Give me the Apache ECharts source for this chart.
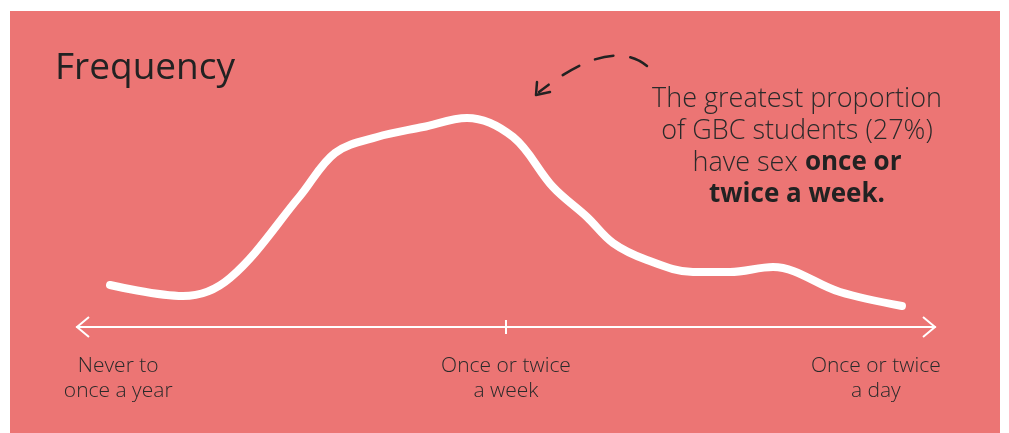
<!DOCTYPE html>
<html><head><meta charset="utf-8">
<script src="https://cdn.jsdelivr.net/npm/echarts@6/dist/echarts.min.js"></script>
<style>
html,body{margin:0;padding:0;background:#fff;}
#wrap{position:relative;width:1009px;height:433px;}
#bg{position:absolute;left:10px;top:11px;width:990px;height:422px;background:#EC7574;}
#chart{position:absolute;left:0;top:0;width:1009px;height:433px;}
</style></head><body>
<div id="wrap"><div id="bg"></div><div id="chart"></div></div>
<script>
// Frequency scale position (0 = never, 100 = daily) and share of students (%)
const frequencyPos = [3.85, 12.35, 17.83, 25.99, 30.07, 34.97, 40.33, 45.45, 50.82, 55.48, 59.44, 62.47, 66.43, 71.79, 76.11, 81.12, 88.93, 96.15];
const sharePct     = [5.43, 4.0, 6.34, 16.94, 22.5, 24.57, 25.86, 27.03, 24.57, 18.1, 14.22, 10.86, 8.66, 7.11, 7.11, 7.76, 4.53, 2.72];
const tickLabels   = ['Never to\nonce a year', 'Once or twice\na week', 'Once or twice\na day'];
const tickLabelPos = [4.8, 50, 93.1];
const midTickPos   = [50];
const titleText = 'Frequency';

const FONT = '"Open Sans", Lato, sans-serif';
const chart = echarts.init(document.getElementById('chart'));
const lineData = frequencyPos.map((x, i) => [x, sharePct[i]]);

const option = {
  backgroundColor: 'transparent',
  animation: false,
  grid: { left: 77, right: 74, top: 95, bottom: 106 },
  xAxis: [{
    type: 'value', min: 0, max: 100,
    splitLine: { show: false },
    axisLine: { show: true, lineStyle: { color: '#fff', width: 2 } },
    axisTick: { show: true, customValues: midTickPos, length: 7, lineStyle: { color: '#fff', width: 2 } },
    axisLabel: {
      show: true, customValues: tickLabelPos, margin: 27,
      color: '#2a2a2a', fontSize: 21, lineHeight: 25, fontFamily: FONT, fontWeight: 300, align: 'center',
      formatter: v => { const i = tickLabelPos.indexOf(v); return i >= 0 ? tickLabels[i] : ''; }
    }
  }, {
    type: 'value', min: 0, max: 100, position: 'bottom', gridIndex: 0,
    splitLine: { show: false },
    axisLine: { show: false },
    axisTick: { show: true, inside: true, customValues: midTickPos, length: 7, lineStyle: { color: '#fff', width: 2 } },
    axisLabel: { show: false }
  }],
  yAxis: { type: 'value', min: 0, max: 30, show: false, splitLine: { show: false } },
  title: [{
    text: titleText, left: 50, top: 45,
    textStyle: { color: '#222', fontSize: 37, fontWeight: 400, fontFamily: FONT }
  }],
  series: [{
    type: 'line', xAxisIndex: 0, data: lineData, smooth: 0.35, symbol: 'none',
    lineStyle: { color: '#fff', width: 8, cap: 'round', join: 'round' }, z: 5
  }]
};
chart.setOption(option);

// decorations: open chevron arrowheads at axis ends, annotation text and dashed arrow
const pL = chart.convertToPixel({ xAxisIndex: 0, yAxisIndex: 0 }, [0, 0]);
const pR = chart.convertToPixel({ xAxisIndex: 0, yAxisIndex: 0 }, [100, 0]);
const ax = Math.round(pL[1]);
chart.setOption({
  graphic: [
    { type: 'polyline', shape: { points: [[pL[0] + 12, ax - 10], [pL[0], ax], [pL[0] + 12, ax + 10]] },
      style: { stroke: '#fff', lineWidth: 2, fill: null } },
    { type: 'polyline', shape: { points: [[pR[0] - 12, ax - 10], [pR[0], ax], [pR[0] - 12, ax + 10]] },
      style: { stroke: '#fff', lineWidth: 2, fill: null } },
    { type: 'text', x: 797, y: 83,
      style: {
        text: '{n|The greatest proportion}\n{n|of GBC students (27%)}\n{n|have sex }{b|once or}\n{b|twice a week.}',
        align: 'center', verticalAlign: 'top',
        rich: {
          n: { fontSize: 27, lineHeight: 32, fontFamily: FONT, fontWeight: 300, fill: '#2a2a2a' },
          b: { fontSize: 26, lineHeight: 32, fontFamily: FONT, fontWeight: 700, fill: '#222' }
        }
      } },
    { type: 'bezierCurve', shape: { x1: 647, y1: 66, cpx1: 610, cpy1: 36, x2: 539, y2: 92 },
      style: { stroke: '#222', lineWidth: 2.5, lineDash: [19, 17], fill: null, lineCap: 'round' } },
    { type: 'polyline', shape: { points: [[537, 82], [536, 95], [550, 92]] },
      style: { stroke: '#222', lineWidth: 2.5, fill: null, lineCap: 'round', lineJoin: 'round' } }
  ]
});
</script>
</body></html>
